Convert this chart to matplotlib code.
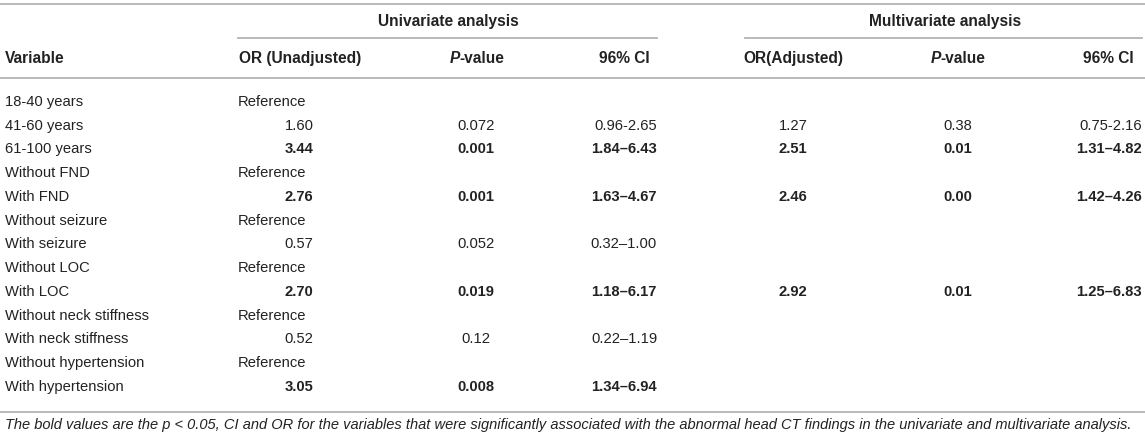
import matplotlib
matplotlib.use("Agg")
import matplotlib.pyplot as plt

# ---- data ----
variables = ["18-40 years", "41-60 years", "61-100 years", "Without FND", "With FND",
             "Without seizure", "With seizure", "Without LOC", "With LOC",
             "Without neck stiffness", "With neck stiffness", "Without hypertension",
             "With hypertension"]
or_unadj = ["Reference", "1.60", "3.44", "Reference", "2.76", "Reference", "0.57",
            "Reference", "2.70", "Reference", "0.52", "Reference", "3.05"]
p_unadj = ["", "0.072", "0.001", "", "0.001", "", "0.052", "", "0.019", "", "0.12", "", "0.008"]
ci_unadj = ["", "0.96-2.65", "1.84–6.43", "", "1.63–4.67", "", "0.32–1.00", "",
            "1.18–6.17", "", "0.22–1.19", "", "1.34–6.94"]
or_adj = ["", "1.27", "2.51", "", "2.46", "", "", "", "2.92", "", "", "", ""]
p_adj = ["", "0.38", "0.01", "", "0.00", "", "", "", "0.01", "", "", "", ""]
ci_adj = ["", "0.75-2.16", "1.31–4.82", "", "1.42–4.26", "", "", "", "1.25–6.83", "", "", "", ""]
significant = [False, False, True, False, True, False, False, False, True, False, False, False, True]
group_titles = ["Univariate analysis", "Multivariate analysis"]
col_headers = ["Variable", "OR (Unadjusted)", "-value", "96% CI", "OR(Adjusted)", "-value", "96% CI"]
footnote = ("The bold values are the p < 0.05, CI and OR for the variables that were significantly "
            "associated with the abnormal head CT findings in the univariate and multivariate analysis.")

# ---- layout ----
W, H = 1145, 444
fig = plt.figure(figsize=(W / 100, H / 100), dpi=100)
ax = fig.add_axes([0, 0, 1, 1])
ax.set_xlim(0, W)
ax.set_ylim(H, 0)
ax.axis("off")

FONT = "Liberation Sans"
FS = 10.6
HFS = 11.2
TC = "#222222"
LC = "#b4b4b4"
LW = 1.3

def t(x, y, s, ha="left", bold=False, italic=False, size=FS):
    # y is the visual centre of capital letters; convert to baseline
    off = 0.716 * size * 100 / 72 / 2
    return ax.text(x, y + off, s, ha=ha, va="baseline", fontsize=size, family=FONT, color=TC,
                   fontweight="bold" if bold else "normal",
                   fontstyle="italic" if italic else "normal")

# rules
ax.plot([0, W], [4, 4], color=LC, lw=LW)
ax.plot([238, 657], [38, 38], color=LC, lw=LW)
ax.plot([745, 1142], [38, 38], color=LC, lw=LW)
ax.plot([0, W], [78, 78], color=LC, lw=LW)
ax.plot([0, W], [412, 412], color=LC, lw=LW)

# group titles
t(448, 20, group_titles[0], ha="center", bold=True, size=HFS)
t(945, 20, group_titles[1], ha="center", bold=True, size=HFS)

# column headers
hy = 57.5
t(5, hy, col_headers[0], bold=True, size=HFS)
t(300, hy, col_headers[1], ha="center", bold=True, size=HFS)

def pval_header(cx, rest):
    # "P" italic bold + "-value" bold, centered at cx
    txt = t(0, hy, "P", bold=True, italic=True, size=HFS)
    txt2 = t(0, hy, rest, bold=True, size=HFS)
    fig.canvas.draw()
    r = fig.canvas.get_renderer()
    w1 = txt.get_window_extent(r).width
    w2 = txt2.get_window_extent(r).width
    x0 = cx - (w1 + w2) / 2
    txt.set_x(x0)
    txt2.set_x(x0 + w1)

pval_header(477, col_headers[2])
pval_header(958, col_headers[5])
t(650, hy, col_headers[3], ha="right", bold=True, size=HFS)
t(793, hy, col_headers[4], ha="center", bold=True, size=HFS)
t(1134, hy, col_headers[6], ha="right", bold=True, size=HFS)

# rows
y0, dy = 100.5, 23.75
for i, var in enumerate(variables):
    y = y0 + i * dy
    b = significant[i]
    t(5, y, var)
    if or_unadj[i] == "Reference":
        t(238, y, or_unadj[i])
    else:
        t(299, y, or_unadj[i], ha="center", bold=b)
    t(476, y, p_unadj[i], ha="center", bold=b)
    t(657, y, ci_unadj[i], ha="right", bold=b)
    t(793, y, or_adj[i], ha="center", bold=b)
    t(958, y, p_adj[i], ha="center", bold=b)
    t(1142, y, ci_adj[i], ha="right", bold=b)

# footnote
t(5, 424, footnote, italic=True, size=10.5)

fig.savefig("out.png", dpi=100)
